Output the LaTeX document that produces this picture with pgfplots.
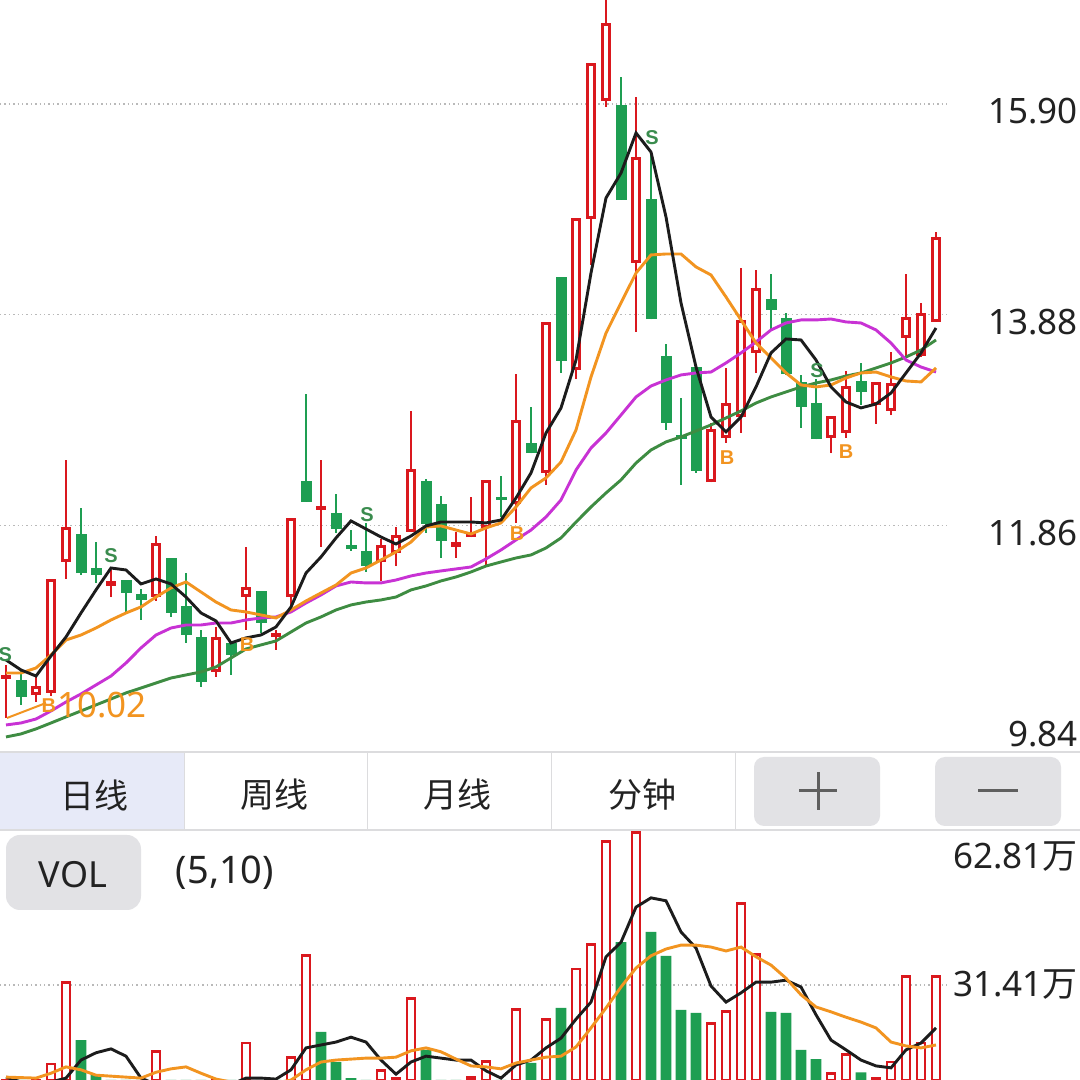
\documentclass[border=0pt]{standalone}
\usepackage{fontspec}
\setmainfont{Noto Sans}
\newfontfamily\cjk{Noto Sans CJK SC}
\newfontfamily\sigfont{Liberation Sans}
\usepackage{pgfplots}
\usepackage{pgfplotstable}
\pgfplotsset{compat=1.18}
\definecolor{cRed}{RGB}{218,24,30}
\definecolor{cGreen}{RGB}{30,158,82}
\definecolor{cBlack}{RGB}{28,28,28}
\definecolor{cOrange}{RGB}{242,148,32}
\definecolor{cMag}{RGB}{200,50,212}
\definecolor{cMA30}{RGB}{62,140,66}
\definecolor{cSig}{RGB}{58,140,78}
\definecolor{cGrid}{RGB}{185,185,185}
\definecolor{cTab}{RGB}{231,234,248}
\definecolor{cBtn}{RGB}{226,226,229}
\definecolor{cLine}{RGB}{220,220,222}
\definecolor{cText}{RGB}{34,34,34}
\definecolor{cSym}{RGB}{95,95,95}

% red (up) candles: i open high low close
\pgfplotstableread{
i o h l c
0 10.391 10.525 10.020 10.429
2 10.237 10.410 10.170 10.324
3 10.257 11.349 10.228 11.349
4 11.512 12.489 11.349 11.847
7 11.282 11.435 11.176 11.330
10 11.176 11.761 11.138 11.694
14 10.458 10.889 10.410 10.793
16 11.176 11.656 10.860 11.272
18 10.793 10.860 10.669 10.832
19 11.176 11.933 11.081 11.933
21 12.010 12.489 11.656 12.048
25 11.512 11.732 11.330 11.675
26 11.598 11.847 11.473 11.771
27 11.799 12.959 11.799 12.403
30 11.656 11.799 11.550 11.703
31 11.751 12.135 11.751 11.799
32 11.838 12.298 11.464 12.298
34 12.068 13.313 11.886 12.872
36 12.365 13.812 12.250 13.812
38 13.352 14.808 13.265 14.808
39 14.799 16.293 14.358 16.293
40 15.929 16.950 15.872 16.677
42 14.377 15.967 13.716 15.393
47 12.278 12.844 12.278 12.786
48 12.700 13.371 12.652 13.035
49 12.901 14.329 12.748 13.831
50 13.515 14.310 13.323 14.137
55 12.700 12.911 12.556 12.911
56 12.748 13.342 12.700 13.198
58 13.016 13.237 12.834 13.237
59 12.959 13.524 12.920 13.227
60 13.658 14.271 13.476 13.859
61 13.486 13.994 13.476 13.898
62 13.812 14.674 13.812 14.626
}\redC

% green (down) candles: i open high low close
\pgfplotstableread{
i o h l c
1 10.381 10.477 10.142 10.218
5 11.780 12.029 11.387 11.406
6 11.454 11.703 11.311 11.387
8 11.339 11.339 11.033 11.215
9 11.205 11.253 10.956 11.148
11 11.550 11.550 10.985 11.023
12 11.090 11.406 10.736 10.812
13 10.793 10.860 10.314 10.362
15 10.736 10.736 10.429 10.621
17 11.234 11.234 10.832 10.927
20 12.288 13.122 12.087 12.087
22 11.981 12.163 11.790 11.828
23 11.675 11.818 11.617 11.636
24 11.617 11.886 11.416 11.473
28 12.288 12.307 11.790 11.876
29 12.068 12.144 11.550 11.713
33 12.135 12.336 11.943 12.106
35 12.652 12.997 12.556 12.556
37 14.243 14.243 13.323 13.438
41 15.891 16.159 14.981 14.981
43 14.990 15.440 13.840 13.840
44 13.486 13.601 12.777 12.844
45 12.729 13.083 12.250 12.690
46 13.380 13.380 12.365 12.384
51 14.032 14.271 13.735 13.927
52 13.850 13.898 13.304 13.313
53 13.237 13.304 12.796 12.997
54 13.035 13.265 12.690 12.690
57 13.246 13.419 13.016 13.141
}\grnC

% moving averages of price
\pgfplotstableread{
i m5 m10 m20 m30
0 10.573 10.448 9.950 9.835
1 10.477 10.448 9.969 9.864
2 10.419 10.496 10.007 9.912
3 10.611 10.621 10.084 9.969
4 10.793 10.764 10.170 10.027
5 11.023 10.812 10.247 10.084
6 11.244 10.879 10.333 10.142
7 11.454 10.956 10.419 10.199
8 11.435 11.023 10.544 10.257
9 11.301 11.081 10.688 10.304
10 11.349 11.176 10.812 10.352
11 11.301 11.263 10.879 10.400
12 11.176 11.320 10.908 10.429
13 11.023 11.224 10.908 10.458
14 10.947 11.128 10.927 10.506
15 10.736 11.052 10.927 10.592
16 10.784 11.033 10.956 10.678
17 10.812 11.004 10.975 10.717
18 10.889 10.975 10.985 10.755
19 11.081 11.052 11.033 10.841
20 11.406 11.138 11.119 10.927
21 11.560 11.215 11.196 10.985
22 11.742 11.291 11.282 11.052
23 11.905 11.406 11.320 11.100
24 11.828 11.454 11.311 11.128
25 11.751 11.531 11.311 11.148
26 11.684 11.608 11.339 11.176
27 11.761 11.703 11.378 11.244
28 11.857 11.847 11.406 11.282
29 11.895 11.857 11.426 11.330
30 11.895 11.818 11.445 11.368
31 11.895 11.780 11.464 11.416
32 11.886 11.838 11.541 11.473
33 11.914 11.886 11.627 11.512
34 12.125 12.039 11.723 11.550
35 12.365 12.221 11.818 11.579
36 12.748 12.317 11.943 11.646
37 12.988 12.470 12.106 11.742
38 13.447 12.777 12.393 11.894
39 14.281 13.285 12.604 12.039
40 15.000 13.706 12.748 12.173
41 15.239 13.994 12.920 12.298
42 15.623 14.281 13.093 12.460
43 15.440 14.454 13.198 12.585
44 14.818 14.463 13.256 12.662
45 13.994 14.463 13.304 12.710
46 13.380 14.339 13.323 12.767
47 12.901 14.262 13.332 12.825
48 12.758 14.051 13.419 12.892
49 12.901 13.831 13.515 12.959
50 13.189 13.610 13.620 13.035
51 13.515 13.467 13.735 13.093
52 13.649 13.323 13.802 13.141
53 13.639 13.208 13.831 13.189
54 13.447 13.189 13.831 13.227
55 13.189 13.208 13.840 13.256
56 13.045 13.275 13.812 13.294
57 12.988 13.323 13.802 13.323
58 13.026 13.332 13.735 13.371
59 13.131 13.285 13.610 13.419
60 13.323 13.246 13.447 13.476
61 13.515 13.237 13.380 13.543
62 13.754 13.371 13.332 13.639
}\priceMA

% volume (10k shares), up days
\pgfplotstableread{
i v
0 11.0
2 10.0
3 15.2
4 32.0
10 17.7
14 10.0
16 19.5
19 16.6
20 37.4
25 13.8
26 12.3
27 28.7
31 12.5
32 15.8
34 26.3
36 24.4
38 34.7
39 39.8
40 60.8
42 62.8
47 23.6
48 25.9
49 48.2
50 37.6
55 13.3
56 17.2
58 12.3
59 15.6
60 33.1
61 19.5
62 33.1
}\volR

% volume, down days
\pgfplotstableread{
i v
1 10.0
5 20.1
6 12.9
7 9.0
8 9.5
9 8.5
11 10.0
12 10.5
13 9.5
15 8.0
17 10.0
18 9.0
21 21.8
22 15.6
23 12.3
24 11.0
28 18.1
29 11.0
30 10.5
33 10.0
35 15.4
37 26.7
41 40.2
43 42.3
44 37.4
45 26.3
46 25.7
51 25.9
52 25.7
53 18.1
54 16.2
57 13.5
}\volG

% volume moving averages (5, 10)
\pgfplotstableread{
i m5 m10
0 12.5 12.5
1 11.5 12.4
2 11.0 12.3
3 11.5 13.3
4 12.3 14.6
5 16.0 14.0
6 17.5 12.9
7 18.3 12.7
8 16.8 12.5
9 12.3 12.3
10 11.0 13.5
11 10.5 14.2
12 10.0 14.6
13 10.0 13.3
14 10.5 12.1
15 11.0 11.5
16 12.3 11.2
17 12.3 11.0
18 12.1 11.3
19 14.0 11.9
20 18.5 14.0
21 19.1 15.6
22 19.7 16.0
23 20.7 16.2
24 19.7 16.4
25 16.0 16.4
26 13.1 16.6
27 15.6 17.9
28 16.8 18.5
29 16.4 17.7
30 16.0 16.2
31 16.0 14.8
32 13.8 14.6
33 12.3 14.2
34 15.0 15.4
35 16.0 16.0
36 18.5 16.6
37 20.5 16.8
38 24.4 18.7
39 27.9 22.6
40 37.2 26.7
41 40.2 31.0
42 47.4 34.9
43 49.3 37.4
44 48.7 38.8
45 42.3 39.6
46 39.0 39.6
47 31.2 39.2
48 27.9 38.4
49 29.8 39.2
50 32.0 37.2
51 32.0 35.5
52 32.4 32.8
53 31.0 29.4
54 25.3 26.9
55 20.1 25.9
56 18.1 24.8
57 16.0 23.8
58 14.8 22.6
59 14.4 19.7
60 18.1 18.9
61 19.5 18.5
62 22.6 19.1
}\volMA

\pgfplotsset{
  nomark/.style={only marks, mark=*, mark size=0pt, mark options={draw=none, fill=none}},
  wick/.style={nomark, error bars/.cd, y dir=plus, y explicit, error mark=none,
    error bar style={line width=2.6pt, #1}},
  body/.style 2 args={nomark, error bars/.cd, y dir=plus, y explicit, error mark=none,
    error bar style={line width=#1, #2}},
}

\begin{document}
\begin{tikzpicture}[x=1pt,y=1pt]
\fill[white] (0pt,0pt) rectangle (1080pt,1080pt);

% ---------- price panel ----------
\begin{axis}[at={(0pt,330pt)}, anchor=south west, scale only axis,
  width=950pt, height=750pt, enlargelimits=false,
  xmin=-0.4, xmax=62.933, ymin=9.710, ymax=16.897,
  axis line style={draw=none}, xtick=\empty,
  ytick={11.86,13.88,15.90}, yticklabels={}, major tick length=0pt,
  ymajorgrids, major grid style={cGrid, line width=1.2pt, dash pattern=on 1.4pt off 3pt}]
\addplot[wick=cRed] table[x=i, y=l, y error plus expr=\thisrow{h}-\thisrow{l}] {\redC};
\addplot[wick=cGreen] table[x=i, y=l, y error plus expr=\thisrow{h}-\thisrow{l}] {\grnC};
\addplot[body={10.9pt}{cRed}] table[x=i, y=o, y error plus expr=\thisrow{c}-\thisrow{o}] {\redC};
\addplot[body={4.9pt}{white}] table[x=i, y expr=\thisrow{o}+0.029, y error plus expr={max(\thisrow{c}-\thisrow{o}-0.058,0)}] {\redC};
\addplot[body={11pt}{cGreen}] table[x=i, y=c, y error plus expr=\thisrow{o}-\thisrow{c}] {\grnC};

\addplot[cMA30, line width=2.9pt, no markers] table[x=i, y=m30] {\priceMA};
\addplot[cMag, line width=2.9pt, no markers] table[x=i, y=m20] {\priceMA};
\addplot[cOrange, line width=2.9pt, no markers] table[x=i, y=m10] {\priceMA};
\addplot[cBlack, line width=2.9pt, no markers] table[x=i, y=m5] {\priceMA};

\addplot[nomark, point meta=explicit symbolic,
  nodes near coords={\textcolor{cSig}{\sigfont\bfseries\fontsize{20}{22}\selectfont\pgfplotspointmeta}},
  every node near coord/.append style={anchor=center, inner sep=0pt}]
  coordinates {(-0.05,10.621)[S] (7,11.569)[S] (24.07,11.962)[S] (43.07,15.575)[S] (54.07,13.342)[S]};
\addplot[nomark, point meta=explicit symbolic,
  nodes near coords={\textcolor{cOrange}{\sigfont\bfseries\fontsize{20}{22}\selectfont\pgfplotspointmeta}},
  every node near coord/.append style={anchor=center, inner sep=0pt}]
  coordinates {(2.85,10.132)[B] (16.07,10.717)[B] (34.07,11.780)[B] (48.07,12.508)[B] (56,12.566)[B]};
\end{axis}

% min price marker
\draw[cOrange, line width=2pt] (7pt,362pt) -- (46pt,377pt);
\node[anchor=west, inner sep=0pt, text=cOrange, font=\fontsize{35}{42}\selectfont] at (57pt,375pt) {10.02};

% price labels
\begin{scope}[every node/.style={anchor=east, inner sep=0pt, text=cText, font=\fontsize{35}{42}\selectfont}]
\node at (1078pt,968.5pt) {15.90};
\node at (1078pt,758pt) {13.88};
\node at (1078pt,547pt) {11.86};
\node at (1078pt,346pt) {9.84};
\end{scope}

% ---------- tab bar ----------
\fill[cTab] (0pt,251pt) rectangle (184pt,327pt);
\draw[cLine, line width=1.5pt] (0pt,328pt) -- (1080pt,328pt);
\draw[cLine, line width=1.5pt] (0pt,250pt) -- (1080pt,250pt);
\foreach \xx in {184,367,551,735} \draw[cLine, line width=1pt] (\xx pt,251pt) -- (\xx pt,327pt);
\begin{scope}[every node/.style={inner sep=0pt, text=cText, font=\cjk\fontsize{34}{40}\selectfont}]
\node at (94pt,285pt) {日线};
\node at (274pt,285pt) {周线};
\node at (457pt,285pt) {月线};
\node at (642pt,285pt) {分钟};
\end{scope}
\fill[cBtn, rounded corners=10pt] (754pt,254pt) rectangle (880pt,323pt);
\fill[cBtn, rounded corners=10pt] (935pt,254pt) rectangle (1061pt,323pt);
\draw[cSym, line width=3pt] (799pt,289pt) -- (837pt,289pt);
\draw[cSym, line width=3pt] (818pt,270pt) -- (818pt,308pt);
\draw[cSym, line width=3pt] (978pt,289pt) -- (1018pt,289pt);

% ---------- volume panel ----------
\begin{axis}[at={(0pt,0pt)}, anchor=south west, scale only axis,
  width=950pt, height=248pt, enlargelimits=false,
  xmin=-0.4, xmax=62.933, ymin=11.91, ymax=62.82,
  axis line style={draw=none}, xtick=\empty,
  ytick={31.41}, yticklabels={}, major tick length=0pt,
  ymajorgrids, major grid style={cGrid, line width=1.2pt, dash pattern=on 1.4pt off 3pt}]
\addplot[ybar, bar width=8pt, bar shift=0pt, draw=cRed, line width=2.9pt, fill=white] table[x=i, y=v] {\volR};
\addplot[ybar, bar width=10.9pt, bar shift=0pt, draw=none, fill=cGreen] table[x=i, y=v] {\volG};
\addplot[cBlack, line width=2.9pt, no markers] table[x=i, y=m5] {\volMA};
\addplot[cOrange, line width=2.9pt, no markers] table[x=i, y=m10] {\volMA};
\end{axis}

\fill[cBtn, rounded corners=14pt] (6pt,170pt) rectangle (141pt,245pt);
\node[inner sep=0pt, text=cText, font=\fontsize{36}{42}\selectfont] at (73pt,205pt) {VOL};
\node[inner sep=0pt, text=cText, font=\fontsize{38}{44}\selectfont] at (225pt,207pt) {(5,10)};
\node[anchor=east, inner sep=0pt, text=cText, font=\fontsize{35}{42}\selectfont] at (1078pt,223pt) {62.81{\cjk 万}};
\node[anchor=east, inner sep=0pt, text=cText, font=\fontsize{35}{42}\selectfont] at (1078pt,95pt) {31.41{\cjk 万}};

\pgfresetboundingbox
\path (0pt,0pt) rectangle (1080pt,1080pt);
\end{tikzpicture}
\end{document}
